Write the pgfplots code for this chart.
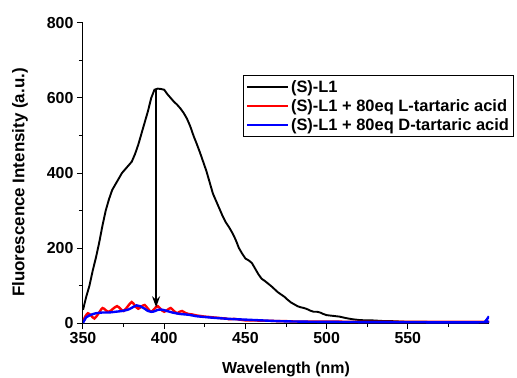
\documentclass[border=0pt]{standalone}
\usepackage{pgfplots}
\pgfplotsset{compat=1.18}
\usepackage{fontspec}
\setmainfont{Liberation Sans}
\usetikzlibrary{arrows.meta}
\definecolor{myred}{RGB}{255,0,0}
\definecolor{myblue}{RGB}{0,0,255}
\begin{document}
\begin{tikzpicture}
\path[use as bounding box] (-83bp,-55bp) rectangle (434bp,323bp);
\begin{axis}[
  scale only axis, width=406bp, height=300bp,
  xmin=350, xmax=600, ymin=0, ymax=800,
  axis x line*=bottom, axis y line*=left,
  axis line style={line width=1bp},
  xtick={350,400,450,500,550},
  minor xtick={375,425,475,525,575},
  ytick={0,200,400,600,800},
  minor ytick={100,300,500,700},
  tick align=outside,
  major tick length=6bp, minor tick length=4bp,
  tick style={line width=1bp, black},
  /pgf/number format/assume math mode=true,
  ticklabel style={font=\bfseries\fontsize{16}{19}\selectfont},
  xlabel={Wavelength (nm)},
  ylabel={Fluorescence Intensity (a.u.)},
  label style={font=\bfseries\fontsize{16}{19}\selectfont},
  xlabel style={at={(axis description cs:0.5,-0.167)}, anchor=base},
  ylabel style={at={(axis description cs:-0.155,0.468)}, anchor=center, rotate=0, font=\bfseries\fontsize{17}{20}\selectfont},
  legend cell align=left,
  legend style={at={(rel axis cs:0.394,0.827)}, anchor=north west,
    draw=black, line width=1bp, inner xsep=3bp, inner ysep=3bp,
    font=\bfseries\fontsize{16.5}{19}\selectfont,
    row sep=1.5bp},
  legend image code/.code={\path (0bp,0bp) -- (41bp,0bp); \draw[#1] (9bp,0bp) -- (41bp,0bp);},
]
\addlegendimage{black, line width=1.6bp}
\addlegendentry{(S)-L1}
\addlegendimage{myred, line width=1.6bp}
\addlegendentry{(S)-L1 + 80eq L-tartaric acid}
\addlegendimage{myblue, line width=1.6bp}
\addlegendentry{(S)-L1 + 80eq D-tartaric acid}
\addplot[black, line width=1.9bp, forget plot] coordinates {
(350,35) (352,70) (354,100) (356,140) (358,175) (360,215) (362,260) (364,300)
(366,330) (368,355) (370,370) (372,385) (374,400) (376,410) (378,420) (380,430)
(382,450) (384,475) (386,505) (388,535) (390,565) (392,600) (394,622) (396,625)
(398,624) (400,622) (402,610) (404,600) (406,590) (408,582) (410,572) (412,560)
(414,545) (416,525) (418,500) (420,478) (422,455) (424,430) (426,405) (428,375)
(430,345) (432,325) (434,305) (436,285) (438,268) (440,255) (442,240) (444,222)
(446,200) (448,185) (450,172) (452,167) (454,160) (456,145) (458,130) (460,118)
(462,112) (464,105) (466,98) (468,90) (470,82) (472,76) (474,70) (476,62)
(478,55) (480,50) (482,45) (484,42) (486,40) (488,37) (490,33) (492,30)
(494,30) (496,28) (498,24) (500,21) (504,19) (508,17) (512,13) (516,10)
(520,8) (524,7) (528,7) (532,6) (536,5) (540,5) (545,4) (550,3) (560,3)
(570,2) (580,2) (590,2) (600,2)
};
\addplot[myred, line width=2.4bp, smooth, tension=0.5, forget plot] coordinates {
(350,5) (351.5,18) (353,26) (355,20) (357,12) (359.5,25) (362,40) (364,34)
(366,30) (368.5,38) (371,45) (373,38) (375,32) (377.5,44) (380,56) (382,46)
(384,38) (386,44) (388,48) (390,38) (392,30) (394,38) (396,45) (398,36)
(400,30) (402,35) (404,40) (406,32) (408,26) (409.5,30) (411,32) (413,27)
(415,24) (417,23) (420,20) (422,19) (425,17) (428,16) (430,15) (433,14)
(435,13) (438,12) (440,10) (443,11) (445,10) (448,8) (450,7) (455,7) (460,6)
(465,6) (470,5) (475,5) (480,4) (490,4) (500,4) (520,3) (550,3) (575,3) (598,3) (600,4)
};
\addplot[myblue, line width=2.4bp, smooth, tension=0.5, forget plot] coordinates {
(350,0) (352,15) (355,22) (358,26) (362,28) (366,28) (370,30) (374,32) (378,36)
(381,43) (383,47) (385,45) (388,38) (390,32) (393,30) (396,35) (398,36) (401,33)
(405,28) (410,24) (415,22) (420,18) (425,16) (430,14) (440,11) (450,9) (460,7)
(470,5) (480,4) (500,3) (550,2) (596,2) (598,6) (600,18)
};
\draw[-{Stealth[length=11bp,width=8bp]}, line width=1.6bp] (axis cs:395,622) -- (axis cs:395,42);
\end{axis}
\end{tikzpicture}
\end{document}
